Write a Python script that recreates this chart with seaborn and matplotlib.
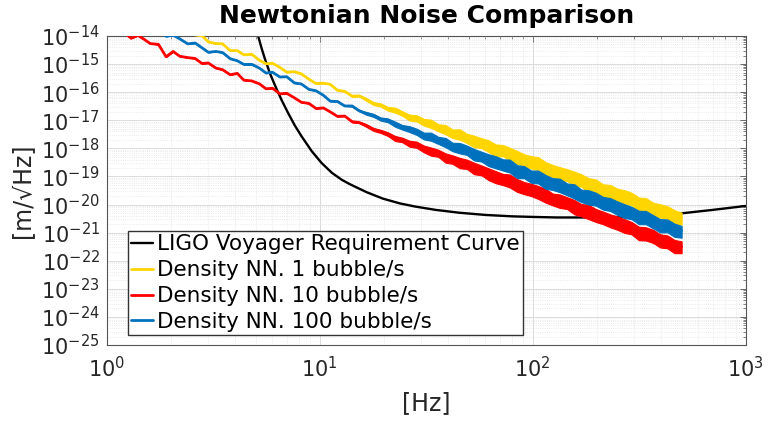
import numpy as np
import matplotlib
matplotlib.use("Agg")
import matplotlib.pyplot as plt
import seaborn as sns
from matplotlib.ticker import LogLocator, NullFormatter

# frequency grid of the density NN spectra [Hz]
freq = [1.2, 1.3, 1.4, 1.5, 1.6, 1.75, 1.9, 2.05, 2.2, 2.4,
        2.6, 2.8, 3.0, 3.25, 3.5, 3.8, 4.1, 4.4, 4.8, 5.2,
        5.6, 6.0, 6.5, 7.0, 7.6, 8.2, 8.9, 9.6, 10.4, 11.2,
        12.1, 13.1, 14.2, 15.3, 16.5, 17.9, 19.3, 20.9, 22.6, 24.4,
        26.4, 28.5, 30.8, 33.3, 36, 39, 42, 45.5, 49, 53,
        57.5, 62, 67, 72.5, 78, 84.5, 91, 98.5, 106, 115,
        124, 134, 145, 157, 169, 183, 198, 214, 231, 250,
        270, 291, 315, 340, 368, 397, 429, 463, 500]

# log10 of the amplitude [m/sqrt(Hz)]
yellow_exp = [-13.00, -13.19, -13.17, -13.32, -13.46, -13.45, -13.59, -13.78, -13.72, -13.91,
              -13.96, -13.99, -14.21, -14.27, -14.28, -14.52, -14.52, -14.67, -14.65, -14.86,
              -14.99, -14.97, -15.12, -15.29, -15.27, -15.35, -15.54, -15.69, -15.68, -15.72,
              -15.93, -15.97, -16.14, -16.13, -16.25, -16.40, -16.46, -16.58, -16.63, -16.75,
              -16.89, -16.93, -17.05, -17.11, -17.26, -17.32, -17.46, -17.49, -17.63, -17.73,
              -17.80, -17.91, -18.03, -18.07, -18.20, -18.27, -18.42, -18.47, -18.54, -18.69,
              -18.77, -18.89, -18.94, -19.07, -19.11, -19.27, -19.34, -19.47, -19.52, -19.64,
              -19.73, -19.79, -19.94, -20.00, -20.15, -20.19, -20.29, -20.41, -20.47]

red_exp = [-13.86, -14.08, -13.98, -14.12, -14.27, -14.30, -14.74, -14.55, -14.72, -14.77,
           -14.80, -14.98, -14.96, -15.14, -15.20, -15.38, -15.33, -15.57, -15.60, -15.70,
           -15.88, -15.86, -16.06, -16.04, -16.20, -16.36, -16.40, -16.58, -16.56, -16.70,
           -16.86, -16.85, -17.05, -17.08, -17.18, -17.32, -17.40, -17.48, -17.64, -17.69,
           -17.82, -17.87, -18.00, -18.10, -18.17, -18.33, -18.38, -18.51, -18.55, -18.69,
           -18.77, -18.91, -18.98, -19.10, -19.15, -19.27, -19.41, -19.45, -19.57, -19.64,
           -19.79, -19.86, -19.94, -20.08, -20.17, -20.22, -20.39, -20.44, -20.57, -20.62,
           -20.76, -20.83, -20.98, -21.04, -21.11, -21.26, -21.33, -21.47, -21.49]

blue_exp = [-13.33, -13.52, -13.49, -13.67, -13.78, -13.81, -14.01, -13.97, -14.10, -14.28,
            -14.25, -14.42, -14.58, -14.55, -14.59, -14.81, -14.88, -15.01, -15.01, -15.14,
            -15.32, -15.29, -15.46, -15.45, -15.67, -15.71, -15.90, -15.95, -16.11, -16.32,
            -16.33, -16.49, -16.49, -16.66, -16.75, -16.82, -16.96, -16.99, -17.13, -17.24,
            -17.30, -17.41, -17.54, -17.57, -17.71, -17.78, -17.93, -17.98, -18.05, -18.20,
            -18.28, -18.41, -18.45, -18.58, -18.62, -18.78, -18.84, -18.98, -19.02, -19.15,
            -19.24, -19.30, -19.45, -19.52, -19.66, -19.70, -19.81, -19.92, -19.99, -20.09,
            -20.23, -20.29, -20.41, -20.46, -20.59, -20.72, -20.76, -20.89, -20.94]

# scatter of the dense spectra above / below the trace (decades)
spread_up = [0, 0, 0, 0, 0, 0, 0, 0, 0, 0,
             0, 0, 0, 0, 0, 0, 0, 0, 0, 0,
             0, 0, 0, 0, 0, 0, 0, 0, 0, 0,
             0, 0, 0.02, 0.03, 0.04, 0.04, 0.06, 0.05, 0.08, 0.07,
             0.09, 0.11, 0.10, 0.13, 0.12, 0.15, 0.13, 0.17, 0.15, 0.18,
             0.16, 0.20, 0.17, 0.19, 0.22, 0.18, 0.21, 0.19, 0.23, 0.20,
             0.18, 0.22, 0.20, 0.24, 0.19, 0.21, 0.23, 0.19, 0.22, 0.20,
             0.24, 0.21, 0.19, 0.23, 0.21, 0.20, 0.23, 0.21, 0.18]
spread_dn = [0, 0, 0, 0, 0, 0, 0, 0, 0, 0,
             0, 0, 0, 0, 0, 0, 0, 0, 0, 0,
             0, 0, 0, 0, 0, 0, 0, 0, 0, 0,
             0, 0, 0.03, 0.02, 0.05, 0.06, 0.05, 0.08, 0.10, 0.09,
             0.12, 0.11, 0.14, 0.16, 0.13, 0.18, 0.17, 0.20, 0.18, 0.23,
             0.19, 0.22, 0.26, 0.21, 0.24, 0.28, 0.22, 0.25, 0.23, 0.29,
             0.24, 0.26, 0.22, 0.27, 0.25, 0.30, 0.23, 0.26, 0.24, 0.28,
             0.25, 0.23, 0.29, 0.24, 0.26, 0.27, 0.23, 0.26, 0.24]

# LIGO Voyager requirement
ligo_freq = [4.9, 5.12, 5.34, 5.52, 5.83, 6.15, 6.63, 7.08, 7.63, 8.23,
             9.17, 10.2, 11.4, 12.7, 13.8, 16.6, 19.8, 23.8, 28, 35,
             45, 60, 80, 100, 130, 170, 240, 330, 490, 700, 1000]
ligo_exp = [-13.6, -13.96, -14.45, -14.80, -15.32, -15.74, -16.29, -16.72, -17.18, -17.58,
            -18.10, -18.52, -18.87, -19.12, -19.27, -19.56, -19.79, -19.96, -20.07, -20.19,
            -20.29, -20.37, -20.42, -20.44, -20.46, -20.46, -20.45, -20.40, -20.32, -20.19, -20.05]

labels = ["LIGO Voyager Requirement Curve", "Density NN. 1 bubble/s",
          "Density NN. 10 bubble/s", "Density NN. 100 bubble/s"]
colors = ["black", "#FFD500", "#FF0000", "#0072BD"]

sns.set_style("white")
plt.rcParams["font.family"] = ["DejaVu Sans"]

fig, ax = plt.subplots(figsize=(7.68, 4.21), dpi=100)
fig.subplots_adjust(left=0.139, right=0.971, bottom=0.1805, top=0.9145)

sns.lineplot(x=ligo_freq, y=10.0 ** np.array(ligo_exp), color=colors[0], linewidth=1.7,
             label=labels[0], sort=False, ax=ax, zorder=2)

f = np.array(freq)
up = np.array(spread_up)
dn = np.array(spread_dn)
for i, exps in enumerate([yellow_exp, red_exp, blue_exp]):
    c = np.array(exps)
    z = 3 + i
    ax.fill_between(f, 10.0 ** (c - dn), 10.0 ** (c + up), color=colors[i + 1],
                    linewidth=0.8, edgecolor=colors[i + 1], zorder=z)
    sns.lineplot(x=f, y=10.0 ** c, color=colors[i + 1], linewidth=2.0,
                 label=labels[i + 1], sort=False, ax=ax, zorder=z + 0.5)

ax.set_xscale("log")
ax.set_yscale("log")
ax.set_xlim(1, 1000)
ax.set_ylim(1e-25, 1e-14)
ax.set_yticks([10.0 ** -k for k in range(14, 26)])
ax.yaxis.set_minor_locator(LogLocator(base=10, subs=np.arange(2, 10), numticks=100))
ax.xaxis.set_minor_locator(LogLocator(base=10, subs=np.arange(2, 10), numticks=100))
ax.yaxis.set_minor_formatter(NullFormatter())
ax.xaxis.set_minor_formatter(NullFormatter())

ax.grid(which="major", color="#dcdcdc", linewidth=0.7)
ax.grid(which="minor", color="#e4e4e4", linestyle=":", linewidth=0.6)
ax.set_axisbelow(True)

ax.tick_params(which="both", direction="in", top=True, right=True, color="#555555")
ax.tick_params(which="major", length=4, width=0.6, labelsize=15, labelcolor="#262626")
ax.tick_params(which="minor", length=2.5, width=0.5)
ax.tick_params(axis="x", which="major", pad=8)
ax.tick_params(axis="y", which="major", pad=5)
for s in ax.spines.values():
    s.set_color("#555555")
    s.set_linewidth(0.8)

ax.set_xlabel("[Hz]", fontsize=17, color="#262626", labelpad=7)
ax.set_ylabel("[m/\u221aHz]", fontsize=17, color="#262626", labelpad=4)
ax.set_title("Newtonian Noise Comparison", fontsize=18, fontweight="bold",
             color="black", pad=9)

leg = ax.legend(loc="lower left", bbox_to_anchor=(0.033, 0.032), fontsize=15.5,
                frameon=True, fancybox=False, edgecolor="#333333", framealpha=1,
                handlelength=1.0, handletextpad=0.2, borderpad=0.15, labelspacing=0.27,
                borderaxespad=0)
for t in leg.get_texts():
    t.set_color("black")

fig.savefig("out.png", dpi=100)
